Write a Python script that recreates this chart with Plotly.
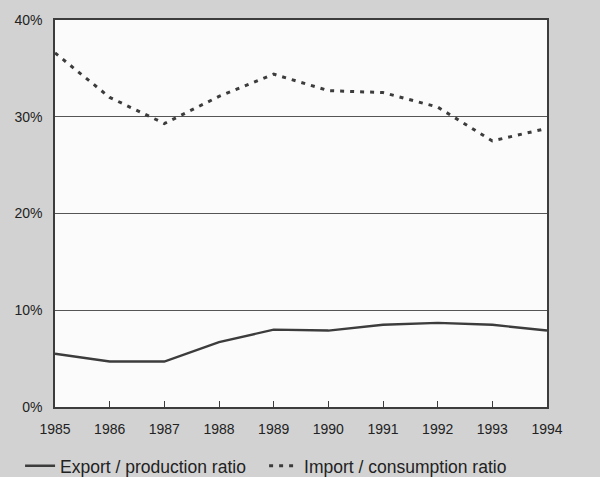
import plotly.graph_objects as go

years = [1985, 1986, 1987, 1988, 1989, 1990, 1991, 1992, 1993, 1994]
export_ratio = [5.5, 4.7, 4.7, 6.7, 8.0, 7.9, 8.5, 8.7, 8.5, 7.9]
import_ratio = [36.6, 32.0, 29.3, 32.1, 34.4, 32.7, 32.5, 31.0, 27.5, 28.8]
ytick_vals = [0, 10, 20, 30, 40]
ytick_text = ['0%', '10%', '20%', '30%', '40%']

ink = '#3c3c3c'

fig = go.Figure()
fig.add_trace(go.Scatter(
    x=years, y=export_ratio, mode='lines',
    name='Export / production ratio', legend='legend',
    line=dict(color=ink, width=2.4)))
fig.add_trace(go.Scatter(
    x=years, y=import_ratio, mode='lines',
    name='Import / consumption ratio', legend='legend2',
    line=dict(color=ink, width=3, dash='4px,6px')))

leg = dict(orientation='h', y=-0.152, yanchor='middle', xanchor='left',
           font=dict(size=17.5), bgcolor='rgba(0,0,0,0)', itemwidth=30)

fig.update_layout(
    width=600, height=477,
    margin=dict(l=55, r=53, t=20, b=70, autoexpand=False),
    paper_bgcolor='#d2d2d2',
    plot_bgcolor='#fbfbfb',
    font=dict(family='Liberation Sans, Arial, sans-serif', color='#222', size=14),
    showlegend=True,
    legend=dict(leg, x=-0.071),
    legend2=dict(leg, x=0.425),
    xaxis=dict(range=[1985, 1994], tickvals=years, ticks='inside', ticklen=6,
               tickcolor=ink, showline=True, linecolor=ink, linewidth=1.5,
               mirror=True, showgrid=False, zeroline=False,
               ticklabelstandoff=8),
    yaxis=dict(range=[0, 40], tickvals=ytick_vals, ticktext=ytick_text,
               showline=True, linecolor=ink, linewidth=1.5, mirror=True,
               showgrid=True, gridcolor='#555', gridwidth=1, zeroline=False,
               ticks='', ticklabelstandoff=8),
)

fig.write_html("out.html", config={'displayModeBar': False},
               post_script="document.body.style.margin='0';")
